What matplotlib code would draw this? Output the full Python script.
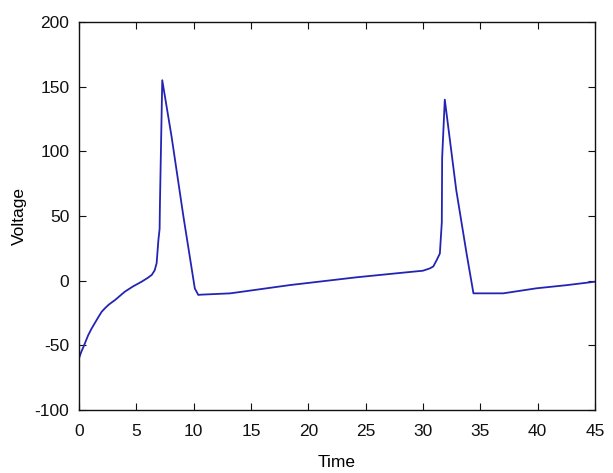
import matplotlib
matplotlib.use("Agg")
import matplotlib.pyplot as plt

plt.rcParams['font.family'] = ['Liberation Sans', 'DejaVu Sans']
plt.rcParams['axes.unicode_minus'] = False

# Data
time = [0.0, 0.2, 0.4, 0.6, 0.81, 1.1, 1.4, 1.7, 1.98, 2.3, 2.6, 2.9, 3.14, 3.6, 4.0,
        4.7, 5.46, 6.0, 6.34, 6.6, 6.77, 6.92, 7.03, 7.06, 7.26, 8.08, 9.1, 10.1, 10.4,
        10.7, 13.2, 18.4, 24.2, 27.7, 30.0, 30.6, 30.9, 31.2, 31.47, 31.64, 31.67, 31.9,
        32.9, 33.8, 34.4, 37.0, 39.9, 42.5, 45.0]
voltage = [-60, -55, -51, -46.5, -42, -37, -32.5, -28, -24, -21, -18.5, -16.5, -15,
           -11.5, -8.5, -4.5, -0.8, 2.2, 4.4, 8, 13.5, 31, 40, 60, 155, 111, 50, -6,
           -11, -10.8, -9.8, -3.4, 2.6, 5.7, 7.7, 9.5, 11, 16, 21, 45, 95, 140, 70,
           21, -9.8, -9.8, -5.9, -3.5, -0.8]

x_ticks = [0, 5, 10, 15, 20, 25, 30, 35, 40, 45]
y_ticks = [-100, -50, 0, 50, 100, 150, 200]
x_label = "Time"
y_label = "Voltage"

fig = plt.figure(figsize=(6.13, 4.73), dpi=100)
ax = fig.add_axes([79/613, 1 - 410/473, (595-79)/613, (410-22)/473])

ax.plot(time, voltage, color='#2424b4', linewidth=1.3)

ax.set_xlim(0, 45)
ax.set_ylim(-100, 200)
ax.set_xticks(x_ticks)
ax.set_yticks(y_ticks)
ax.tick_params(direction='in', length=5, width=0.8, top=True, right=True,
               labelsize=12.5, colors='#111111', pad=7)
ax.tick_params(axis='x', pad=10)
for s in ax.spines.values():
    s.set_linewidth(1.0)
    s.set_color('#111111')

ax.set_xlabel(x_label, fontsize=12.5)
ax.set_ylabel(y_label, fontsize=12.5)
ax.xaxis.set_label_coords((337-79)/516, (410-462)/388)
ax.yaxis.set_label_coords((19-79)/516, 0.5)
ax.xaxis.label.set_va('center')
ax.yaxis.label.set_va('center')

fig.savefig("out.png", dpi=100)
